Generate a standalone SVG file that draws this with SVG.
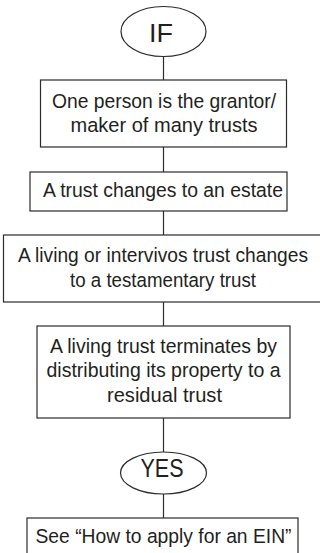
<svg xmlns="http://www.w3.org/2000/svg" width="320" height="553" viewBox="0 0 320 553">
<style>
.s{fill:#fff;stroke:#2b2b2b;stroke-width:1.2}
.c{stroke:#2b2b2b;stroke-width:1.2;fill:none}
text{font-family:"Liberation Sans","DejaVu Sans",sans-serif;font-size:20.5px;fill:#231f20;text-anchor:middle}
.big{font-size:25px}
</style>
<rect width="320" height="553" fill="#fff"/>
<g id="connectors">
<line class="c" x1="163.5" y1="56" x2="163.5" y2="80"/>
<line class="c" x1="163.5" y1="147" x2="163.5" y2="172"/>
<line class="c" x1="163.5" y1="211" x2="163.5" y2="235"/>
<line class="c" x1="163.5" y1="302" x2="163.5" y2="326"/>
<line class="c" x1="163.5" y1="418" x2="163.5" y2="452"/>
<line class="c" x1="163.5" y1="494" x2="163.5" y2="518"/>
</g>
<g id="if">
<ellipse class="s" cx="163.5" cy="31.5" rx="42.5" ry="25"/>
<text class="big" x="161" y="42" textLength="24" lengthAdjust="spacingAndGlyphs">IF</text>
</g>
<g id="n1">
<rect class="s" x="40.5" y="80" width="246" height="67"/>
<text x="164" y="108" textLength="224" lengthAdjust="spacingAndGlyphs">One person is the grantor/</text>
<text x="164" y="132" textLength="187" lengthAdjust="spacingAndGlyphs">maker of many trusts</text>
</g>
<g id="n2">
<rect class="s" x="30" y="172" width="257" height="39"/>
<text x="163" y="197" textLength="240" lengthAdjust="spacingAndGlyphs">A trust changes to an estate</text>
</g>
<g id="n3">
<rect class="s" x="3.5" y="235" width="320" height="67"/>
<text x="163" y="262" textLength="290" lengthAdjust="spacingAndGlyphs">A living or intervivos trust changes</text>
<text x="163" y="287" textLength="186" lengthAdjust="spacingAndGlyphs">to a testamentary trust</text>
</g>
<g id="n4">
<rect class="s" x="37" y="326" width="253" height="92"/>
<text x="163.5" y="353" textLength="227" lengthAdjust="spacingAndGlyphs">A living trust terminates by</text>
<text x="163.5" y="377" textLength="234" lengthAdjust="spacingAndGlyphs">distributing its property to a</text>
<text x="164.5" y="402" textLength="115" lengthAdjust="spacingAndGlyphs">residual trust</text>
</g>
<g id="yes">
<ellipse class="s" cx="163.5" cy="473" rx="43" ry="21"/>
<text class="big" x="162" y="477" textLength="43" lengthAdjust="spacingAndGlyphs">YES</text>
</g>
<g id="n5">
<rect class="s" x="27" y="518" width="271" height="40"/>
<text x="163.5" y="543" textLength="256" lengthAdjust="spacingAndGlyphs">See “How to apply for an EIN”</text>
</g>
</svg>
